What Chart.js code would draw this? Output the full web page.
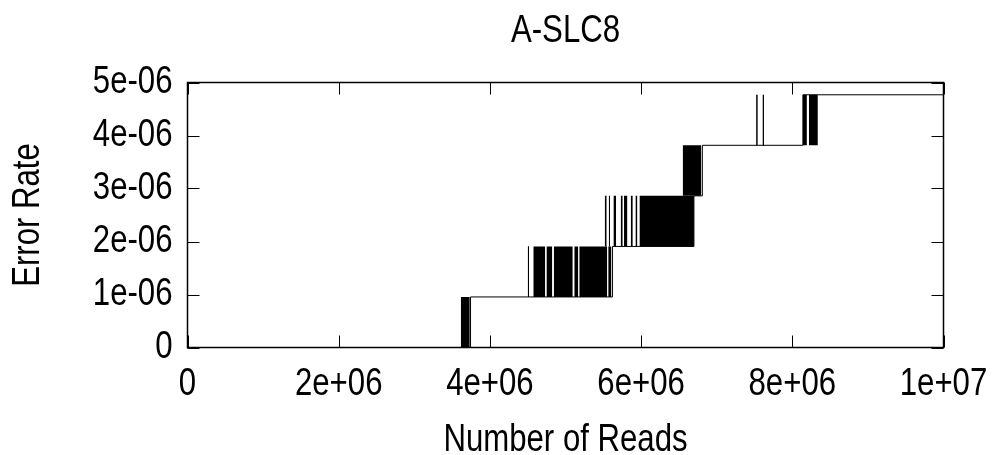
<!DOCTYPE html>
<html><head><meta charset="utf-8">
<script src="https://cdn.jsdelivr.net/npm/chart.js@4.4.1/dist/chart.umd.min.js"></script>
<style>html,body{margin:0;padding:0;background:#fff;} canvas{display:block;}</style>
</head><body>
<canvas id="c" width="1000" height="455"></canvas>
<script>
const chartTitle = 'A-SLC8';
const xAxisTitle = 'Number of Reads';
const yAxisTitle = 'Error Rate';
const xTickLabels = ['0', '2e+06', '4e+06', '6e+06', '8e+06', '1e+07'];
const yTickLabels = ['0', '1e-06', '2e-06', '3e-06', '4e-06', '5e-06'];

// discrete error-rate levels seen in the plot
const errorLevels = [0, 9.54e-7, 1.907e-6, 2.861e-6, 3.815e-6, 4.768e-6];

// main step trace: reads where the level changes, and level index from there on
const traceReads = [0, 3744000, 5621000, 6699000, 6810000, 8140000, 10000000];
const traceLevel = [0, 1, 2, 3, 4, 5, 5];

// dense oscillation bursts between level k and k+1 (start read, end read, lower level index)
const burstStart = [3615000, 4510000, 4574000, 4748000, 4845000, 5116000, 5182000, 5565000,
                    5519000, 5572000, 5634000, 5730000, 5774000, 5863000, 5925000, 5978000,
                    6550000, 7532000, 7617000, 8140000, 8219000];
const burstEnd   = [3734000, 4510000, 4732000, 4825000, 5096000, 5169000, 5552000, 5607000,
                    5545000, 5589000, 5668000, 5757000, 5819000, 5890000, 5951000, 6699000,
                    6797000, 7532000, 7617000, 8193000, 8338000];
const burstLevel = [0, 1, 1, 1, 1, 1, 1, 1,
                    2, 2, 2, 2, 2, 2, 2, 2,
                    3, 4, 4, 4, 4];

const FONT_FAMILY = "'Liberation Sans', Arial, sans-serif";
const baseFont = { family: FONT_FAMILY, size: 38, lineHeight: 1 };

// the reference uses a tall, narrow sans face: draw text horizontally condensed
const canvas = document.getElementById('c');
const ctx2d = canvas.getContext('2d');
const CONDENSE = 0.82;
const origFillText = ctx2d.fillText.bind(ctx2d);
ctx2d.fillText = function (text, x, y, maxWidth) {
  this.save();
  this.translate(x, y);
  this.scale(CONDENSE, 1);
  if (maxWidth === undefined || maxWidth === null) origFillText(text, 0, 0);
  else origFillText(text, 0, 0, maxWidth / CONDENSE);
  this.restore();
};

const datasets = [];
datasets.push({
  label: 'trace',
  data: traceReads.map((r, i) => ({ x: r, y: errorLevels[traceLevel[i]] })),
  stepped: 'before',
  borderColor: '#000',
  borderWidth: 1,
  pointRadius: 0,
  fill: false,
  order: 0
});
burstStart.forEach((s, i) => {
  const e = burstEnd[i];
  const lo = errorLevels[burstLevel[i]];
  const hi = errorLevels[burstLevel[i] + 1];
  const thin = s === e;
  datasets.push({
    label: 'burst' + i,
    data: [{ x: s, y: lo }, { x: s, y: hi }, { x: e, y: hi }, { x: e, y: lo }],
    borderColor: thin ? '#000' : 'rgba(0,0,0,0)',
    borderWidth: 1,
    backgroundColor: '#000',
    pointRadius: 0,
    fill: { value: lo },
    order: 1
  });
});

const framePlugin = {
  id: 'frame',
  afterDatasetsDraw(chart) {
    const { ctx, chartArea: a, scales } = chart;
    const x = scales.x, y = scales.y;
    const T = 12;
    ctx.save();
    ctx.strokeStyle = '#000';
    ctx.lineWidth = 1;
    ctx.beginPath();
    x.ticks.forEach(t => {
      const px = Math.round(x.getPixelForValue(t.value)) + 0.5;
      ctx.moveTo(px, a.bottom); ctx.lineTo(px, a.bottom - T);
      ctx.moveTo(px, a.top); ctx.lineTo(px, a.top + T);
    });
    y.ticks.forEach(t => {
      const py = Math.round(y.getPixelForValue(t.value)) + 0.5;
      ctx.moveTo(a.left, py); ctx.lineTo(a.left + T, py);
      ctx.moveTo(a.right, py); ctx.lineTo(a.right - T, py);
    });
    ctx.stroke();
    ctx.lineWidth = 1.5;
    ctx.strokeRect(a.left, a.top, a.right - a.left, a.bottom - a.top);
    ctx.restore();
  }
};

function noPad(s) { s.paddingLeft = 0; s.paddingRight = 0; s.paddingTop = 0; s.paddingBottom = 0; }

new Chart(canvas, {
  type: 'line',
  data: { datasets },
  options: {
    responsive: false,
    devicePixelRatio: 1,
    animation: false,
    events: [],
    layout: { padding: { left: 0, right: 56.5, top: 0, bottom: 0 } },
    plugins: { legend: { display: false }, tooltip: { enabled: false }, title: { display: false } },
    scales: {
      x: {
        type: 'linear', position: 'bottom', min: 0, max: 1e7,
        ticks: { stepSize: 2e6, autoSkip: false, maxRotation: 0, padding: 18, color: '#000', font: baseFont,
                 callback: (v, i) => xTickLabels[i] },
        grid: { display: false, drawTicks: false },
        border: { display: false },
        title: { display: true, text: xAxisTitle, color: '#000',
                 font: { family: FONT_FAMILY, size: 38, lineHeight: 0.75 }, padding: { top: 0, bottom: 0 } },
        afterFit(s) { s.height = 107.5; noPad(s); }
      },
      xTop: {
        type: 'linear', position: 'top', min: 0, max: 1e7,
        ticks: { display: false },
        grid: { display: false, drawTicks: false },
        border: { display: false },
        title: { display: true, text: chartTitle, color: '#000', font: baseFont, padding: { top: 13, bottom: 0 } },
        afterFit(s) { s.height = 82.5; noPad(s); }
      },
      y: {
        type: 'linear', position: 'left', min: 0, max: 5e-6,
        ticks: { stepSize: 1e-6, padding: 15, color: '#000', font: baseFont,
                 callback: (v, i) => yTickLabels[i] },
        grid: { display: false, drawTicks: false },
        border: { display: false },
        title: { display: true, text: yAxisTitle, color: '#000', font: baseFont, padding: { top: 10, bottom: 0 } },
        afterFit(s) { s.width = 187.5; noPad(s); }
      }
    }
  },
  plugins: [framePlugin]
});
</script>
</body></html>
